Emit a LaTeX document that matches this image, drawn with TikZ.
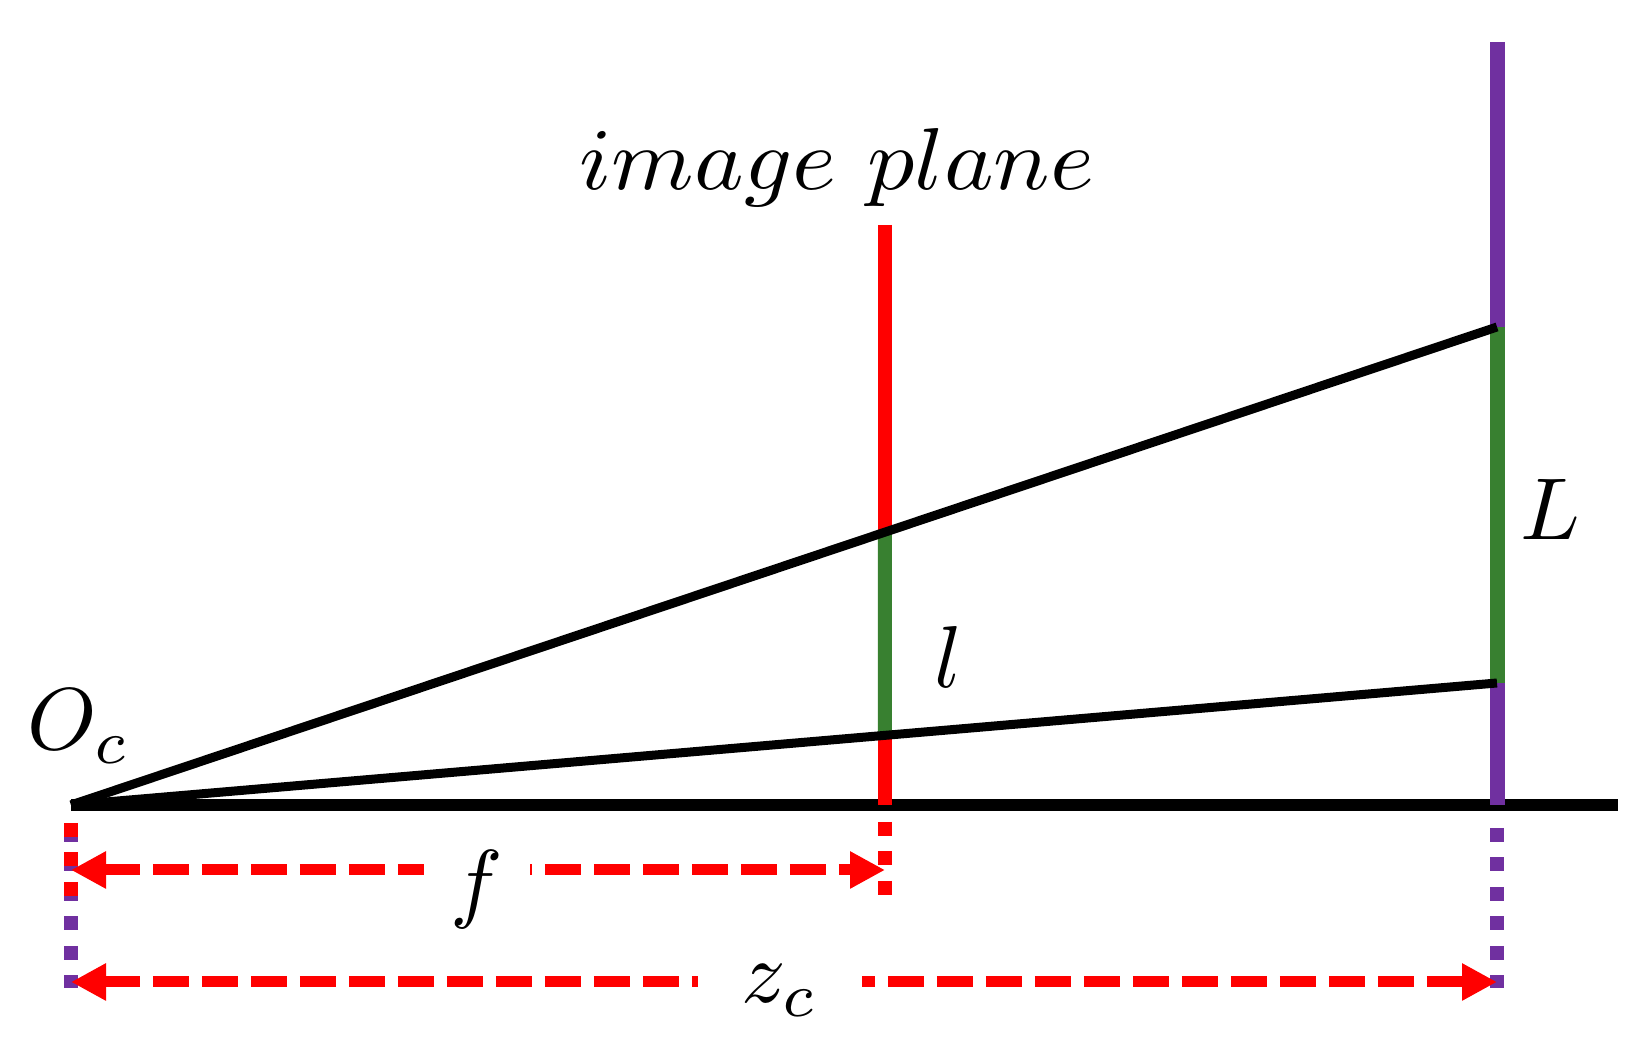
\documentclass[tikz,border=0pt]{standalone}
\usepackage{amsmath}
\usepackage{tikz}
\usetikzlibrary{arrows.meta}

\definecolor{planered}{RGB}{255,0,0}
\definecolor{objpurple}{RGB}{112,48,160}
\definecolor{sizegreen}{RGB}{56,128,48}

\tikzset{
    lbl/.style={scale=2.5, inner sep=1pt},
    gaplbl/.style={lbl, fill=white, inner ysep=0pt},
    ray/.style={line width=0.09cm, black},
    dimline/.style={line width=0.11cm, planered, dash pattern=on 0.36cm off 0.13cm,
        {Triangle[length=0.35cm,width=0.35cm]}-{Triangle[length=0.35cm,width=0.35cm]}},
    guide/.style={line width=0.14cm, dash pattern=on 0.14cm off 0.155cm}
}

\begin{document}
\begin{tikzpicture}
    \useasboundingbox (0,0) rectangle (16.39,10.48);

    % Optical centre, axis, image plane and object
    \coordinate (O) at (0.71,2.43);
    \coordinate (G) at (16.18,2.43);
    \coordinate (Itop) at (8.85,8.23);
    \coordinate (Ibot) at (8.85,2.43);
    \coordinate (Ptop) at (14.97,10.06);
    \coordinate (Pbot) at (14.97,2.43);
    \coordinate (U) at (14.97,7.21);
    \coordinate (D) at (14.97,3.65);
    \coordinate (Iu) at (intersection of O--U and Itop--Ibot);
    \coordinate (Id) at (intersection of O--D and Itop--Ibot);

    % Ends of the guide lines and the dimension lines
    \coordinate (gOf1) at (0.71,2.25);
    \coordinate (gOf2) at (0.71,1.51);
    \coordinate (gIf1) at (8.85,2.26);
    \coordinate (gIf2) at (8.85,1.53);
    \coordinate (gOz1) at (0.71,2.20);
    \coordinate (gOz2) at (0.71,0.60);
    \coordinate (gPz1) at (14.97,2.20);
    \coordinate (gPz2) at (14.97,0.60);
    \coordinate (fL) at (0.71,1.78);
    \coordinate (fR) at (8.85,1.78);
    \coordinate (zL) at (0.71,0.66);
    \coordinate (zR) at (14.97,0.66);

    % Axis
    \draw[line width=0.12cm, black] (O) -- (G);

    % Image plane and object
    \draw[line width=0.14cm, planered] (Itop) -- (Ibot);
    \draw[line width=0.15cm, objpurple] (Ptop) -- (Pbot);
    \draw[line width=0.14cm, sizegreen] (Iu) -- (Id);
    \draw[line width=0.15cm, sizegreen] (U) -- (D);

    % Rays through the optical centre
    \draw[ray] (O) -- (U);
    \draw[ray] (O) -- (D);

    % Dotted guides
    \draw[guide, objpurple] (gOz1) -- (gOz2);
    \draw[guide, objpurple] (gPz1) -- (gPz2);
    \draw[guide, planered] (gOf1) -- (gOf2);
    \draw[guide, planered] (gIf1) -- (gIf2);

    % Dimension lines
    \draw[dimline] (fL) -- (fR);
    \draw[dimline] (zL) -- (zR);

    % Labels
    \node[lbl, xscale=1.07, anchor=base] (title) at (8.37,8.58) {$image\ plane$};
    \node[lbl, anchor=base west] (oc) at (0.17,2.98) {$O_c$};
    \node[lbl, anchor=base] (small) at (9.48,3.60) {$l$};
    \node[lbl, anchor=base] (big) at (15.50,5.08) {$L$};
    \node[gaplbl, anchor=base, inner xsep=3pt] (flab) at (4.77,1.36) {$f$};
    \node[gaplbl, anchor=base, inner xsep=5pt] (zlab) at (7.80,0.45) {$z_c$};
\end{tikzpicture}
\end{document}
